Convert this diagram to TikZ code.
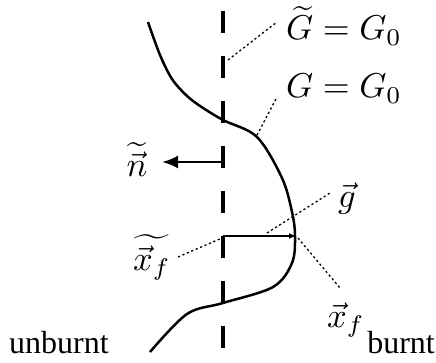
\documentclass[tikz,border=0pt]{standalone}
\usepackage{graphicx}
\usepackage{fontspec}
\setmainfont{Liberation Serif}
\usetikzlibrary{arrows.meta}
\newcommand{\mlbl}[1]{\scalebox{3.45}{\fontsize{10}{12}\selectfont$#1$}}
\tikzset{
  front/.style={line width=2.5pt, line join=round},
  axisline/.style={line width=4.6pt, dash pattern=on 22pt off 23pt},
  leader/.style={line width=1.3pt, dash pattern=on 2.2pt off 2.6pt},
  lbl/.style={inner sep=0pt, font=\fontsize{32}{38}\selectfont},
}
\begin{document}
\begin{tikzpicture}[x=1pt,y=-1pt]
\useasboundingbox (0,0) rectangle (436,363);
% symmetry axis (dashed)
\coordinate (atop) at (223,11);
\coordinate (abot) at (223,350);
\draw[axisline] (atop) -- (abot);
% flame front
\draw[front] plot[smooth, tension=0.55] coordinates {
  (148,22) (160,55) (172,79) (186,95) (200,106) (223,120) (257,137)
  (282,178) (292,212) (295,236) (292,263) (273,287) (223,303) (187,314) (150,352)};
% named points
\coordinate (nstart) at (223,162);
\coordinate (ntip) at (162,162);
\coordinate (xtf) at (223,236);
\coordinate (xf) at (296,236);
% labels
\node[lbl, anchor=base west] (Gt) at (286,40) {\mlbl{\widetilde{G}=G_0}};
\node[lbl, anchor=base west] (G) at (286,98) {\mlbl{G=G_0}};
\node[lbl, anchor=base] (nlab) at (137,177) {\mlbl{\widetilde{\vec{n}}}};
\node[lbl, anchor=base] (glab) at (347,208) {\mlbl{\vec{g}}};
\node[lbl, anchor=base] (xtlab) at (152,270) {\mlbl{\widetilde{\vec{x}_f}}};
\node[lbl, anchor=base] (xlab) at (346,327) {\mlbl{\vec{x}_f}};
\node[lbl, anchor=base west] (unb) at (9,353) {unburnt};
\node[lbl, anchor=base east] (bur) at (435,353) {burnt};
% arrows
\draw[front, -{Latex[length=16pt,width=13pt]}] (nstart) -- (ntip);
\draw[front, -{Latex[length=7pt,width=6pt]}] (xtf) -- (xf);
% leader lines
\coordinate (l1a) at (228,60);  \coordinate (l1b) at (277,22);
\coordinate (l2a) at (257,135); \coordinate (l2b) at (277,97);
\coordinate (l3a) at (267,233); \coordinate (l3b) at (330,193);
\coordinate (l4a) at (178,257); \coordinate (l4b) at (222,238);
\coordinate (l5a) at (298,238); \coordinate (l5b) at (340,288);
\draw[leader] (l1a) -- (l1b);
\draw[leader] (l2a) -- (l2b);
\draw[leader] (l3a) -- (l3b);
\draw[leader] (l4a) -- (l4b);
\draw[leader] (l5a) -- (l5b);
\end{tikzpicture}
\end{document}
